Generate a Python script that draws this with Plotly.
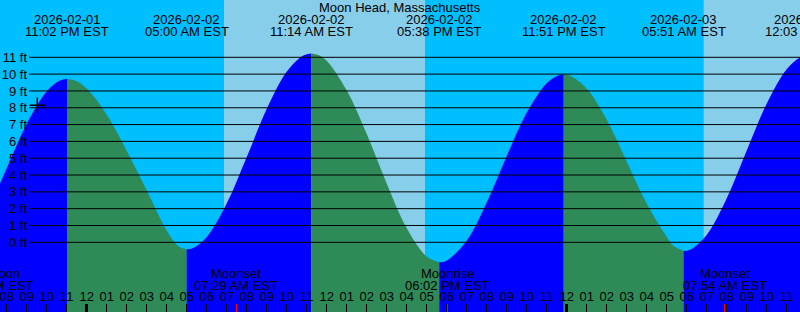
import plotly.graph_objects as go
from datetime import datetime

STATION = "Moon Head, Massachusetts"
TZ = "EST"

# ---- data ----
CURVE_TIMES = [
    "2026-02-01 19:00", "2026-02-01 20:00", "2026-02-01 21:00", "2026-02-01 22:00",
    "2026-02-01 22:40", "2026-02-01 23:02", "2026-02-01 23:25",
    "2026-02-02 00:00", "2026-02-02 01:00", "2026-02-02 02:00", "2026-02-02 03:00",
    "2026-02-02 04:00", "2026-02-02 04:30", "2026-02-02 04:40", "2026-02-02 05:00",
    "2026-02-02 05:20", "2026-02-02 06:00", "2026-02-02 07:00", "2026-02-02 08:00",
    "2026-02-02 09:00", "2026-02-02 10:00", "2026-02-02 10:50", "2026-02-02 11:14",
    "2026-02-02 11:35", "2026-02-02 12:00", "2026-02-02 13:00", "2026-02-02 14:00",
    "2026-02-02 15:00", "2026-02-02 16:00", "2026-02-02 17:00", "2026-02-02 17:38",
    "2026-02-02 18:00", "2026-02-02 19:00", "2026-02-02 20:00", "2026-02-02 21:00",
    "2026-02-02 22:00", "2026-02-02 23:00", "2026-02-02 23:30", "2026-02-02 23:51",
    "2026-02-03 00:10", "2026-02-03 01:00", "2026-02-03 02:00", "2026-02-03 03:00",
    "2026-02-03 04:00", "2026-02-03 05:00", "2026-02-03 05:20", "2026-02-03 05:51",
    "2026-02-03 06:10", "2026-02-03 07:00", "2026-02-03 08:00", "2026-02-03 09:00",
    "2026-02-03 10:00", "2026-02-03 11:00", "2026-02-03 11:40", "2026-02-03 12:03",
]
CURVE_FT = [
    1.72, 4.39, 7.03, 8.97,
    9.62, 9.71, 9.62,
    9.15, 7.60, 5.45, 3.10,
    0.70, -0.15, -0.30, -0.42,
    -0.34, 0.30, 2.30, 5.06,
    7.92, 10.14, 11.11, 11.23,
    11.14, 10.80, 9.04, 6.45,
    3.50, 0.85, -0.85, -1.19,
    -1.09, 0.09, 2.35, 5.12,
    7.70, 9.46, 9.88, 9.97,
    9.90, 9.15, 7.30, 4.80,
    2.30, 0.33, -0.21, -0.52,
    -0.45, 0.44, 2.60, 5.44,
    8.24, 10.29, 10.99, 11.10,
]

EXTREME_TIMES = ["2026-02-01 23:02", "2026-02-02 05:00", "2026-02-02 11:14", "2026-02-02 17:38",
                 "2026-02-02 23:51", "2026-02-03 05:51", "2026-02-03 12:03"]
EXTREME_FT = [9.71, -0.42, 11.23, -1.19, 9.97, -0.52, 11.10]

SUNRISE_TIMES = ["2026-02-02 06:52", "2026-02-03 06:51"]
SUNSET_TIMES = ["2026-02-02 16:55", "2026-02-03 16:57"]

MOON_EVENTS = ["Full Moon", "Moonset", "Moonrise", "Moonset"]
MOON_TIMES = ["2026-02-01 19:15", "2026-02-02 07:29", "2026-02-02 18:02", "2026-02-03 07:54"]

MIDNIGHTS = ["2026-02-02 00:00", "2026-02-03 00:00"]

NOW_TIME = ["2026-02-01 21:32"]
NOW_FT = [8.15]

Y_TICKS = [0, 1, 2, 3, 4, 5, 6, 7, 8, 9, 10, 11]

# ---- layout constants ----
W, H = 800, 312
X_RANGE = ["2026-02-01 19:40", "2026-02-03 11:40"]
Y_RANGE = [-4.144, 14.407]
FONT = "Liberation Sans, Arial, sans-serif"
NIGHT = "#00BFFF"
DAY = "#87CEEB"
RISING = "#0000FF"
FALLING = "#2E8B57"
GRID_X0 = 29 / W
TITLE_Y, DATE_Y, TIME_Y = 7.2, 19.5, 31.3
MOON1_Y, MOON2_Y = 273.5, 285.5


def dt(s):
    return datetime.strptime(s, "%Y-%m-%d %H:%M")


fig = go.Figure()

# tide fill, coloured by rising / falling between extremes
ct = [dt(s) for s in CURVE_TIMES]
ext = [dt(s) for s in EXTREME_TIMES]
bounds = [ct[0]] + [t for t in ext if t > ct[0]]
if bounds[-1] < ct[-1]:
    bounds.append(ct[-1])
floor = Y_RANGE[0] - 1
for a, b in zip(bounds[:-1], bounds[1:]):
    idx = [i for i, t in enumerate(ct) if a <= t <= b]
    xs = [ct[i] for i in idx]
    ys = [CURVE_FT[i] for i in idx]
    color = RISING if ys[-1] > ys[0] else FALLING
    fig.add_trace(go.Scatter(x=[a, b], y=[floor, floor], mode="lines", line=dict(width=0),
                             hoverinfo="skip", showlegend=False))
    fig.add_trace(go.Scatter(x=xs, y=ys, mode="lines", fill="tonexty", fillcolor=color,
                             line=dict(width=0, shape="spline", color=color),
                             hoverinfo="skip", showlegend=False))

# "now" marker
fig.add_trace(go.Scatter(x=[dt(t) for t in NOW_TIME], y=NOW_FT, mode="markers",
                         marker=dict(symbol="cross-thin", size=11, color="black",
                                     line=dict(width=1.5, color="black")),
                         hoverinfo="skip", showlegend=False))

# empty traces so the overlay tick axes are drawn
fig.add_trace(go.Scatter(x=[], y=[], xaxis="x2", yaxis="y", showlegend=False, hoverinfo="skip"))
fig.add_trace(go.Scatter(x=[], y=[], xaxis="x3", yaxis="y", showlegend=False, hoverinfo="skip"))

shapes = []
for sr, ss in zip(SUNRISE_TIMES, SUNSET_TIMES):
    shapes.append(dict(type="rect", xref="x", yref="paper", x0=sr, x1=ss, y0=0, y1=1,
                       fillcolor=DAY, line=dict(width=0), layer="below"))
for v in Y_TICKS:
    shapes.append(dict(type="line", xref="paper", yref="y", x0=GRID_X0, x1=1, y0=v, y1=v,
                       line=dict(color="black", width=1), layer="above"))

x0, x1 = dt(X_RANGE[0]), dt(X_RANGE[1])


def xpos(t):
    if x0 <= t <= x1:
        return dict(x=t, xref="x")
    return dict(x=(t - x0) / (x1 - x0), xref="paper")


def ann(text, t, ypix):
    d = dict(text=text, showarrow=False, yref="paper", y=1 - ypix / H, yanchor="middle",
             xanchor="center", font=dict(family=FONT, size=13, color="black"))
    if t is None:
        d.update(x=0.5, xref="paper")
    else:
        d.update(xpos(t))
    return d


annotations = [ann(STATION, None, TITLE_Y)]
for s in EXTREME_TIMES:
    t = dt(s)
    annotations.append(ann(t.strftime("%Y-%m-%d"), t, DATE_Y))
    annotations.append(ann(t.strftime("%I:%M %p") + " " + TZ, t, TIME_Y))
for name, s in zip(MOON_EVENTS, MOON_TIMES):
    t = dt(s)
    annotations.append(ann(name, t, MOON1_Y))
    annotations.append(ann(t.strftime("%I:%M %p") + " " + TZ, t, MOON2_Y))

tickfont = dict(family=FONT, size=13, color="black")
base_x = dict(type="date", range=X_RANGE, showgrid=False, zeroline=False, showline=False,
              fixedrange=True, automargin=False)

fig.update_layout(
    width=W, height=H,
    margin=dict(l=0, r=0, t=0, b=0, pad=0),
    paper_bgcolor=NIGHT, plot_bgcolor="rgba(0,0,0,0)",
    showlegend=False,
    xaxis=dict(**base_x, domain=[0, 1], anchor="y", ticks="inside", ticklen=8, tickwidth=1,
               tickcolor="black", dtick=3600000, tick0="2026-02-01 00:00", tickformat="%I",
               ticklabelposition="inside", ticklabeloverflow="allow", tickfont=tickfont),
    xaxis2=dict(**base_x, overlaying="x", anchor="y", side="bottom", tickmode="array",
                tickvals=MIDNIGHTS, ticks="inside", ticklen=8, tickwidth=3, tickcolor="black",
                showticklabels=False),
    xaxis3=dict(**base_x, overlaying="x", anchor="y", side="bottom", tickmode="array",
                tickvals=MOON_TIMES[1:], ticks="inside", ticklen=8, tickwidth=1.5, tickcolor="red",
                showticklabels=False),
    yaxis=dict(range=Y_RANGE, domain=[0, 1], anchor="free", position=GRID_X0, side="left",
               tickmode="array", tickvals=Y_TICKS, ticktext=[f"{v} ft" for v in Y_TICKS],
               showgrid=False, zeroline=False, showline=False, ticks="", tickfont=tickfont,
               ticklabelstandoff=2, fixedrange=True, automargin=False),
    shapes=shapes,
    annotations=annotations,
)

fig.write_html("out.html", config={"displayModeBar": False, "staticPlot": True})
